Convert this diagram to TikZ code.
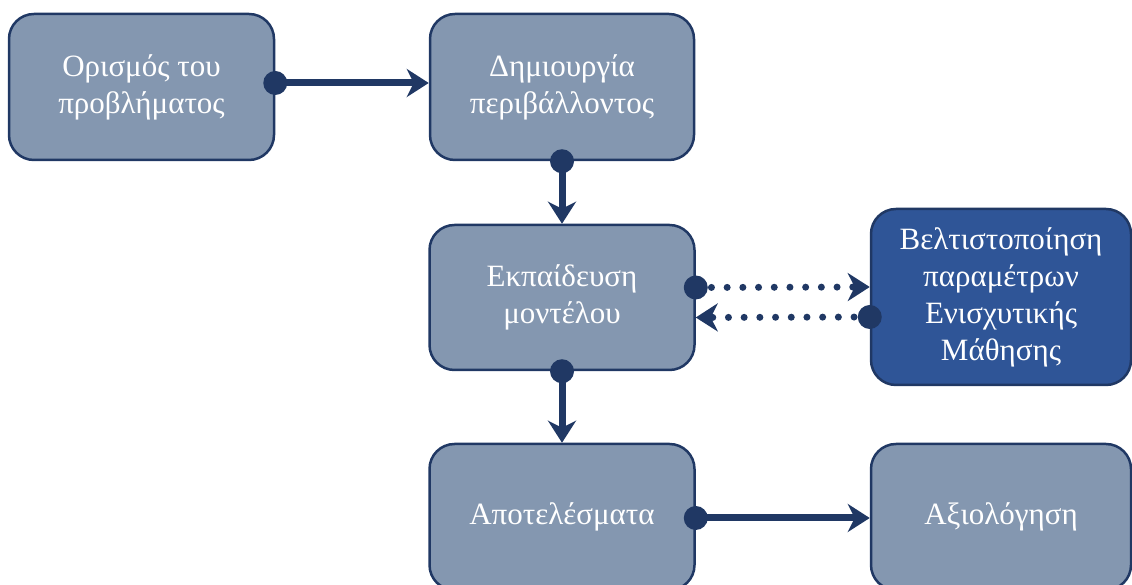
\documentclass[tikz,border=0pt]{standalone}
\usepackage{fontspec}
\setmainfont{Liberation Serif}
\usetikzlibrary{arrows.meta}
\definecolor{boxfill}{HTML}{8497B0}
\definecolor{boxdark}{HTML}{2F5597}
\definecolor{navy}{HTML}{203864}

\begin{document}
\begin{tikzpicture}[x=1pt,y=1pt,
  stagebox/.style={draw=navy, line width=2.5pt, fill=boxfill,
    rounded corners=25pt, minimum width=265pt, minimum height=146pt,
    align=center, text=white, inner sep=0pt,
    font=\fontsize{31}{37}\selectfont},
  darkbox/.style={stagebox, fill=boxdark, minimum width=260pt, minimum height=176pt},
  flow/.style={draw=navy, line width=7pt,
    -{Stealth[length=22pt, width=28pt, inset=7pt]}},
  feedback/.style={draw=navy, line width=7pt, line cap=round,
    dash pattern=on 0pt off 15.7pt,
    -{Stealth[length=22pt, width=28pt, inset=7pt]}},
  dotmark/.style={circle, fill=navy, draw=none, minimum size=24pt, inner sep=0pt},
]
\useasboundingbox (0,0) rectangle (1132,585);

% stages
\node[stagebox] (define) at (141.5,498) {Ορισμός του\\προβλήματος};
\node[stagebox, minimum width=264pt] (env) at (562,498) {Δημιουργία\\περιβάλλοντος};
\node[stagebox, minimum height=145pt] (train) at (562,287.5) {Εκπαίδευση\\μοντέλου};
\node[darkbox] (tune) at (1001,288) {Βελτιστοποίηση\\παραμέτρων\\Ενισχυτικής\\Μάθησης};
\node[stagebox] (results) at (562,68) {Αποτελέσματα};
\node[stagebox, minimum width=260pt] (eval) at (1001,68) {Αξιολόγηση};

% main flow
\draw[flow] ([yshift=4pt]define.east) node[dotmark]{} -- ([yshift=4pt]env.west);
\draw[flow] (env.south) node[dotmark]{} -- (train.north);
\draw[flow] (train.south) node[dotmark]{} -- (results.north);
\draw[flow] ([yshift=-1pt]results.east) node[dotmark]{} -- ([yshift=-1pt]eval.west);

% tuning loop
\draw[feedback] ([yshift=10pt]train.east) node[dotmark]{} -- ([yshift=10pt]tune.west);
\draw[feedback] ([yshift=-20pt]tune.west) node[dotmark]{} -- ([yshift=-20pt]train.east);
\end{tikzpicture}
\end{document}
